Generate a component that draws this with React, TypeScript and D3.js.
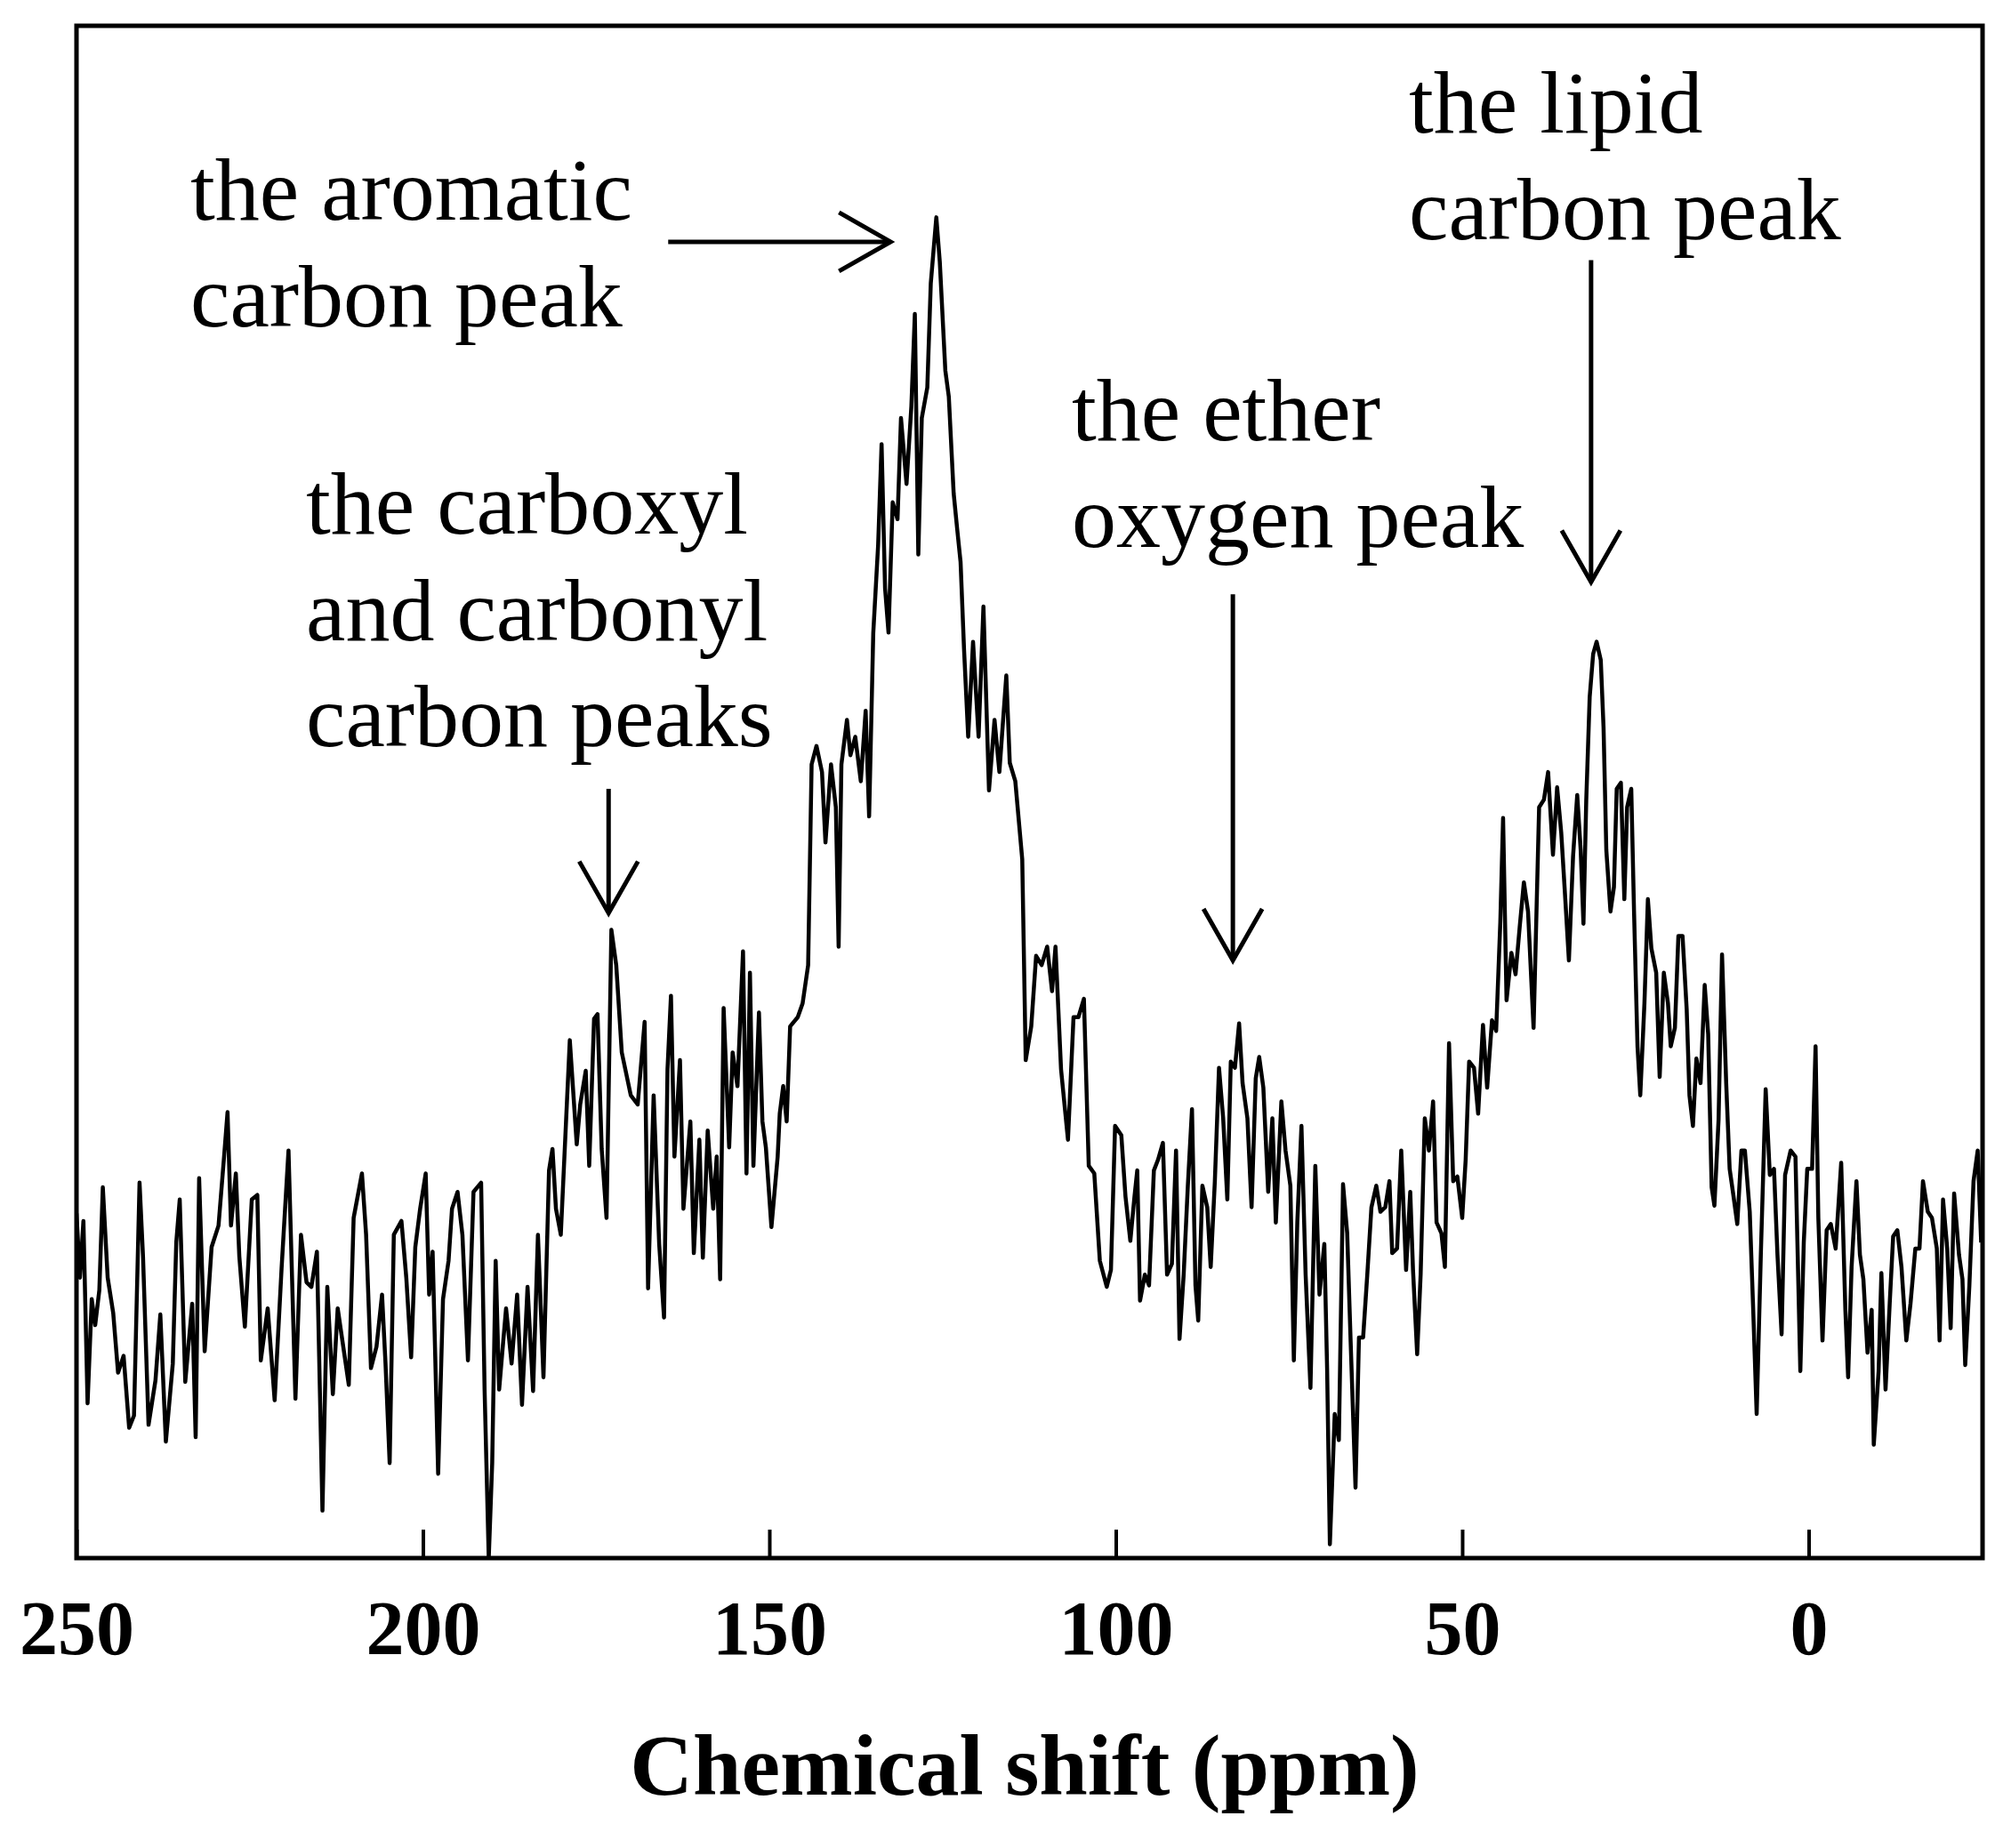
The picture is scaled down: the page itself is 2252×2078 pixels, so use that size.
import { useEffect, useRef } from "react";
import * as d3 from "d3";

// 13C NMR spectrum: [chemical shift (ppm), intensity (a.u., 0-100)]
const spectrum: Array<[number, number]> = [
  [250.0, 22.5], [249.5, 18.3], [249.0, 22.0], [248.4, 10.1], [247.8, 16.9], [247.3, 15.2],
  [246.7, 17.5], [246.2, 24.2], [245.5, 18.3], [244.7, 16.0], [244.0, 12.1], [243.2, 13.2],
  [242.4, 8.5], [241.7, 9.3], [240.9, 24.5], [240.4, 19.7], [239.6, 8.7], [238.6, 11.6],
  [237.9, 15.9], [237.1, 7.6], [236.1, 12.7], [235.6, 20.6], [235.1, 23.4], [234.3, 11.5],
  [233.3, 16.6], [232.8, 7.9], [232.3, 24.8], [231.5, 13.5], [230.5, 20.3], [229.5, 21.7],
  [228.7, 26.2], [228.2, 29.1], [227.7, 21.7], [227.0, 25.1], [226.5, 19.7], [225.7, 15.1],
  [224.7, 23.4], [223.9, 23.7], [223.4, 12.9], [222.4, 16.3], [221.4, 10.3], [220.4, 18.9],
  [219.4, 26.6], [218.4, 10.4], [217.6, 21.1], [216.8, 18.0], [216.1, 17.7], [215.3, 20.0],
  [214.5, 3.1], [213.8, 17.7], [213.0, 10.7], [212.3, 16.3], [210.7, 11.3], [210.0, 22.2],
  [208.8, 25.1], [208.2, 21.1], [207.5, 12.4], [206.7, 13.8], [205.9, 17.2], [205.4, 12.7],
  [204.8, 6.2], [204.2, 21.1], [203.1, 22.0], [202.4, 18.3], [201.7, 13.1], [201.1, 20.3],
  [200.4, 22.8], [199.6, 25.1], [199.1, 17.2], [198.6, 20.0], [197.8, 5.5], [197.1, 16.9],
  [196.3, 19.4], [195.8, 22.8], [195.0, 23.9], [194.3, 21.1], [193.5, 12.9], [192.7, 23.9],
  [191.6, 24.5], [191.1, 11.0], [190.5, 0.0], [190.0, 6.2], [189.5, 19.4], [189.0, 11.0],
  [188.0, 16.3], [187.2, 12.7], [186.4, 17.2], [185.7, 10.0], [184.9, 17.7], [184.1, 10.9],
  [183.4, 21.1], [182.6, 11.8], [181.8, 25.3], [181.3, 26.7], [180.8, 22.8], [180.1, 21.1],
  [178.8, 33.8], [177.8, 27.0], [177.3, 29.6], [176.5, 31.8], [176.0, 25.6], [175.3, 35.2],
  [174.8, 35.5], [174.2, 26.7], [173.5, 22.2],
  [172.8, 41.0], [172.1, 38.7], [171.3, 33.0], [170.0, 30.2], [169.0, 29.6], [168.0, 35.0],
  [167.5, 17.6], [166.7, 30.2], [165.9, 20.5], [165.2, 15.7], [164.7, 31.9], [164.2, 36.7],
  [163.7, 26.2], [162.9, 32.5], [162.4, 22.8], [161.4, 28.5], [160.9, 19.9], [160.1, 27.3],
  [159.6, 19.6], [158.9, 27.9], [158.1, 22.8], [157.6, 26.2], [157.1, 18.2], [156.6, 35.9],
  [155.8, 26.8], [155.3, 33.0], [154.6, 30.8], [153.8, 39.6], [153.3, 25.1], [152.8, 38.2],
  [152.3, 25.6], [151.5, 35.6], [151.0, 28.5], [150.5, 26.8], [149.7, 21.6], [148.8, 26.2],
  [148.5, 29.0], [148.0, 30.8], [147.5, 28.5], [147.0, 34.7], [145.9, 35.3], [145.2, 36.2],
  [144.4, 38.7], [143.9, 51.8], [143.2, 53.0], [142.4, 51.3], [141.9, 46.7], [141.1, 51.8],
  [140.4, 49.0], [140.0, 39.9], [139.6, 51.8], [138.8, 54.7], [138.3, 52.4], [137.6, 53.6],
  [136.8, 50.7], [136.1, 55.3], [135.6, 48.4], [135.0, 60.4], [134.3, 66.1], [133.8, 72.7],
  [133.3, 63.3], [132.8, 60.4], [132.2, 68.9], [131.5, 67.8], [131.0, 74.4], [130.2, 70.1],
  [129.5, 75.2], [129.0, 81.2], [128.5, 65.5], [128.0, 74.4], [127.2, 76.4], [126.7, 83.2],
  [125.9, 87.5], [125.4, 84.6], [124.6, 77.5], [124.1, 75.8], [123.4, 69.5], [122.9, 67.2],
  [122.4, 65.0], [121.9, 59.3], [121.3, 53.6], [120.6, 59.8], [119.8, 53.6], [119.1, 62.1],
  [118.3, 50.1], [117.5, 54.7], [116.8, 51.3], [115.8, 57.6], [115.3, 51.9], [114.5, 50.7],
  [113.5, 45.6], [113.0, 32.5], [112.2, 34.7], [111.5, 39.3], [110.7, 38.7], [109.9, 39.9],
  [109.2, 37.0], [108.7, 39.9], [107.9, 31.9], [106.9, 27.3], [106.1, 35.3], [105.4, 35.3],
  [104.6, 36.5], [103.9, 25.6], [103.1, 25.1], [102.3, 19.4], [101.3, 17.7],
  [100.7, 18.8], [100.1, 28.2], [99.2, 27.6], [98.6, 23.6], [97.9, 20.7], [97.3, 23.6],
  [96.9, 25.3], [96.5, 16.8], [95.8, 18.5], [95.2, 17.8], [94.5, 25.3], [93.9, 26.0],
  [93.2, 27.1], [92.6, 18.5], [91.9, 19.2], [91.3, 26.6], [90.8, 14.3], [90.2, 18.5],
  [89.6, 24.3], [89.0, 29.3], [88.5, 17.8], [88.1, 15.5], [87.5, 24.3], [86.8, 22.9],
  [86.3, 19.0], [85.7, 24.6], [85.1, 32.0], [84.5, 28.7], [83.9, 23.4], [83.4, 32.4],
  [82.8, 32.0], [82.2, 34.9], [81.7, 31.0], [81.0, 28.7], [80.4, 22.9], [79.8, 31.3],
  [79.3, 32.7], [78.7, 30.7], [78.0, 23.9], [77.4, 28.7], [76.9, 21.9], [76.1, 29.8],
  [75.5, 26.6], [74.8, 24.3], [74.3, 12.9], [73.8, 21.9], [73.2, 28.2], [72.6, 18.5],
  [71.9, 11.1], [71.2, 25.6], [70.6, 17.2], [69.9, 20.5], [69.5, 12.4], [69.1, 0.9],
  [68.4, 9.4], [67.8, 7.7], [67.2, 24.4], [66.6, 21.2], [66.1, 14.1], [65.4, 4.6],
  [64.9, 14.4], [64.3, 14.4], [63.7, 18.5], [63.1, 22.9], [62.4, 24.3], [61.8, 22.6],
  [61.1, 22.9], [60.5, 24.6], [60.1, 19.9], [59.4, 20.2], [58.8, 26.6], [58.1, 18.8],
  [57.5, 23.9], [57.1, 18.8], [56.5, 13.3], [56.0, 18.5], [55.4, 28.7], [54.8, 26.6],
  [54.2, 29.8], [53.7, 21.9], [53.0, 21.2], [52.5, 19.0], [51.9, 33.6], [51.3, 24.6],
  [50.7, 24.9], [50.0, 22.2], [49.5, 26.0], [49.0, 32.4], [48.3, 32.0], [47.7, 29.0],
  [47.0, 34.8], [46.4, 30.7], [45.7, 35.1], [45.1, 34.4], [44.5, 41.5], [44.1, 48.3],
  [43.6, 36.4], [42.9, 39.5], [42.3, 38.1], [41.7, 41.2], [41.1, 44.1], [40.5, 42.2],
  [39.7, 34.6], [39.2, 43.6], [38.9, 49.0], [38.2, 49.5], [37.6, 51.3], [36.9, 45.9],
  [36.3, 50.3], [35.7, 47.3], [35.2, 43.6],
  [34.6, 39.0], [34.0, 45.8], [33.4, 49.8], [32.9, 46.2], [32.5, 41.4], [32.1, 49.4],
  [31.6, 56.2], [31.1, 59.0], [30.6, 59.8], [30.0, 58.6], [29.6, 54.2], [29.2, 46.2],
  [28.6, 42.2], [28.1, 43.8], [27.7, 50.2], [27.1, 50.6], [26.6, 43.0], [26.2, 49.0],
  [25.6, 50.2], [25.2, 42.2], [24.7, 33.4], [24.3, 30.2], [23.7, 36.2], [23.2, 43.0],
  [22.7, 39.8], [22.0, 38.2], [21.5, 31.4], [20.9, 38.2], [20.3, 36.2], [19.9, 33.4],
  [19.3, 34.6], [18.8, 40.6], [18.2, 40.6], [17.6, 35.8], [17.2, 30.2], [16.7, 28.2],
  [16.2, 32.6], [15.6, 31.0], [15.0, 37.4], [14.5, 34.2], [14.0, 24.2], [13.6, 23.0],
  [13.0, 28.6], [12.5, 39.4], [11.9, 31.0], [11.4, 25.4], [10.9, 23.8], [10.3, 21.8],
  [9.7, 26.6], [9.2, 26.6], [8.5, 22.6], [8.0, 16.2], [7.5, 9.4], [6.9, 19.8],
  [6.2, 30.6], [5.6, 25.0], [5.0, 25.4], [4.5, 19.8], [3.9, 14.6], [3.4, 25.0],
  [2.6, 26.6], [1.9, 26.2], [1.2, 12.2], [0.7, 20.6], [0.2, 25.4], [-0.5, 25.4],
  [-1.0, 33.4], [-1.4, 22.2], [-2.0, 14.2], [-2.6, 21.4], [-3.2, 21.8], [-3.9, 20.2],
  [-4.7, 25.8], [-5.3, 16.2], [-5.7, 11.8], [-6.2, 19.0], [-6.9, 24.6], [-7.4, 19.8],
  [-7.9, 18.2], [-8.5, 13.4], [-9.1, 16.2], [-9.4, 7.4], [-10.1, 12.2], [-10.5, 18.6],
  [-11.1, 11.0], [-11.7, 16.6], [-12.2, 21.0], [-12.8, 21.4], [-13.4, 19.0], [-14.1, 14.2],
  [-14.7, 16.6], [-15.4, 20.2], [-16.0, 20.2], [-16.5, 24.6], [-17.2, 22.6], [-17.8, 22.2],
  [-18.5, 20.2], [-18.9, 14.2], [-19.4, 23.4], [-20.0, 20.2], [-20.5, 15.0], [-21.0, 23.8],
  [-21.7, 19.8], [-22.2, 18.2], [-22.6, 12.6], [-23.2, 17.8], [-23.8, 24.6], [-24.4, 26.6],
  [-24.9, 20.6],
];

const xTicks = [250, 200, 150, 100, 50, 0];
const xDomain: [number, number] = [250, -25.1];
const xTitle = "Chemical shift (ppm)";

// peak labels
const labelLines = [
  ["the aromatic", "carbon peak"],
  ["the lipid", "carbon peak"],
  ["the carboxyl", "and carbonyl", "carbon peaks"],
  ["the ether", "oxygen peak"],
];
// arrows in data units: from [ppm, intensity] to [ppm, intensity]
const arrowFrom: Array<[number, number]> = [[164.6, 85.9], [31.4, 84.7], [173.2, 50.2], [83.1, 62.9]];
const arrowTo: Array<[number, number]> = [[132.5, 85.9], [31.4, 63.7], [173.2, 42.1], [83.1, 39.0]];

const width = 2252;
const height = 2078;
const margin = { top: 29, right: 23, bottom: 326, left: 86 };
const labelPos = [
  { x: 214, y: 247 },
  { x: 1584, y: 149 },
  { x: 344, y: 600 },
  { x: 1205, y: 495 },
];
const serif = "'Liberation Serif', 'Times New Roman', serif";

export default function App() {
  const axisRef = useRef<SVGGElement>(null);

  const x = d3.scaleLinear().domain(xDomain).range([margin.left, width - margin.right]);
  const y = d3.scaleLinear().domain([0, 100]).range([height - margin.bottom, margin.top]);

  const line = d3
    .line<[number, number]>()
    .x((d) => x(d[0]))
    .y((d) => y(d[1]));

  useEffect(() => {
    const g = d3.select(axisRef.current);
    g.selectAll("*").remove();
    g.call(d3.axisBottom(x).tickValues(xTicks).tickFormat(d3.format("d")).tickSize(-32).tickPadding(47));
    g.select(".domain").remove();
    g.selectAll(".tick line").attr("stroke", "#000").attr("stroke-width", 4);
    g.selectAll(".tick text")
      .attr("fill", "#000")
      .attr("font-family", serif)
      .attr("font-weight", "bold")
      .attr("font-size", 86);
  }, []);

  const arrowHead = (tx: number, ty: number, dx: number, dy: number) => {
    const len = Math.hypot(dx, dy);
    const ux = dx / len;
    const uy = dy / len;
    const back = 58;
    const half = 33;
    const bx = tx - ux * back;
    const by = ty - uy * back;
    return `M${bx - uy * half},${by + ux * half}L${tx},${ty}L${bx + uy * half},${by - ux * half}`;
  };

  return (
    <svg
      width={width}
      height={height}
      style={{ position: "absolute", left: 0, top: 0, background: "#fff" }}
    >
      <defs>
        <clipPath id="plot-clip">
          <rect
            x={margin.left}
            y={margin.top}
            width={width - margin.left - margin.right}
            height={height - margin.top - margin.bottom}
          />
        </clipPath>
      </defs>
      <path
        d={line(spectrum) ?? ""}
        fill="none"
        stroke="#000"
        strokeWidth={4.5}
        strokeLinejoin="round"
        clipPath="url(#plot-clip)"
      />
      <g ref={axisRef} transform={`translate(0,${height - margin.bottom})`} />
      <rect
        x={margin.left}
        y={margin.top}
        width={width - margin.left - margin.right}
        height={height - margin.top - margin.bottom}
        fill="none"
        stroke="#000"
        strokeWidth={5}
      />
      <text
        x={1152}
        y={2018}
        textAnchor="middle"
        fontFamily={serif}
        fontWeight="bold"
        fontSize={98}
        fill="#000"
      >
        {xTitle}
      </text>
      {labelLines.map((lines, i) => (
        <text key={i} fontFamily={serif} fontSize={100} fill="#000">
          {lines.map((t, j) => (
            <tspan key={j} x={labelPos[i].x} y={labelPos[i].y + j * 119.5}>
              {t}
            </tspan>
          ))}
        </text>
      ))}
      {arrowFrom.map((from, i) => {
        const x1 = x(from[0]);
        const y1 = y(from[1]);
        const x2 = x(arrowTo[i][0]);
        const y2 = y(arrowTo[i][1]);
        return (
          <g key={i} stroke="#000" strokeWidth={5} fill="none">
            <line x1={x1} y1={y1} x2={x2} y2={y2} />
            <path d={arrowHead(x2, y2, x2 - x1, y2 - y1)} strokeLinejoin="miter" />
          </g>
        );
      })}
    </svg>
  );
}
